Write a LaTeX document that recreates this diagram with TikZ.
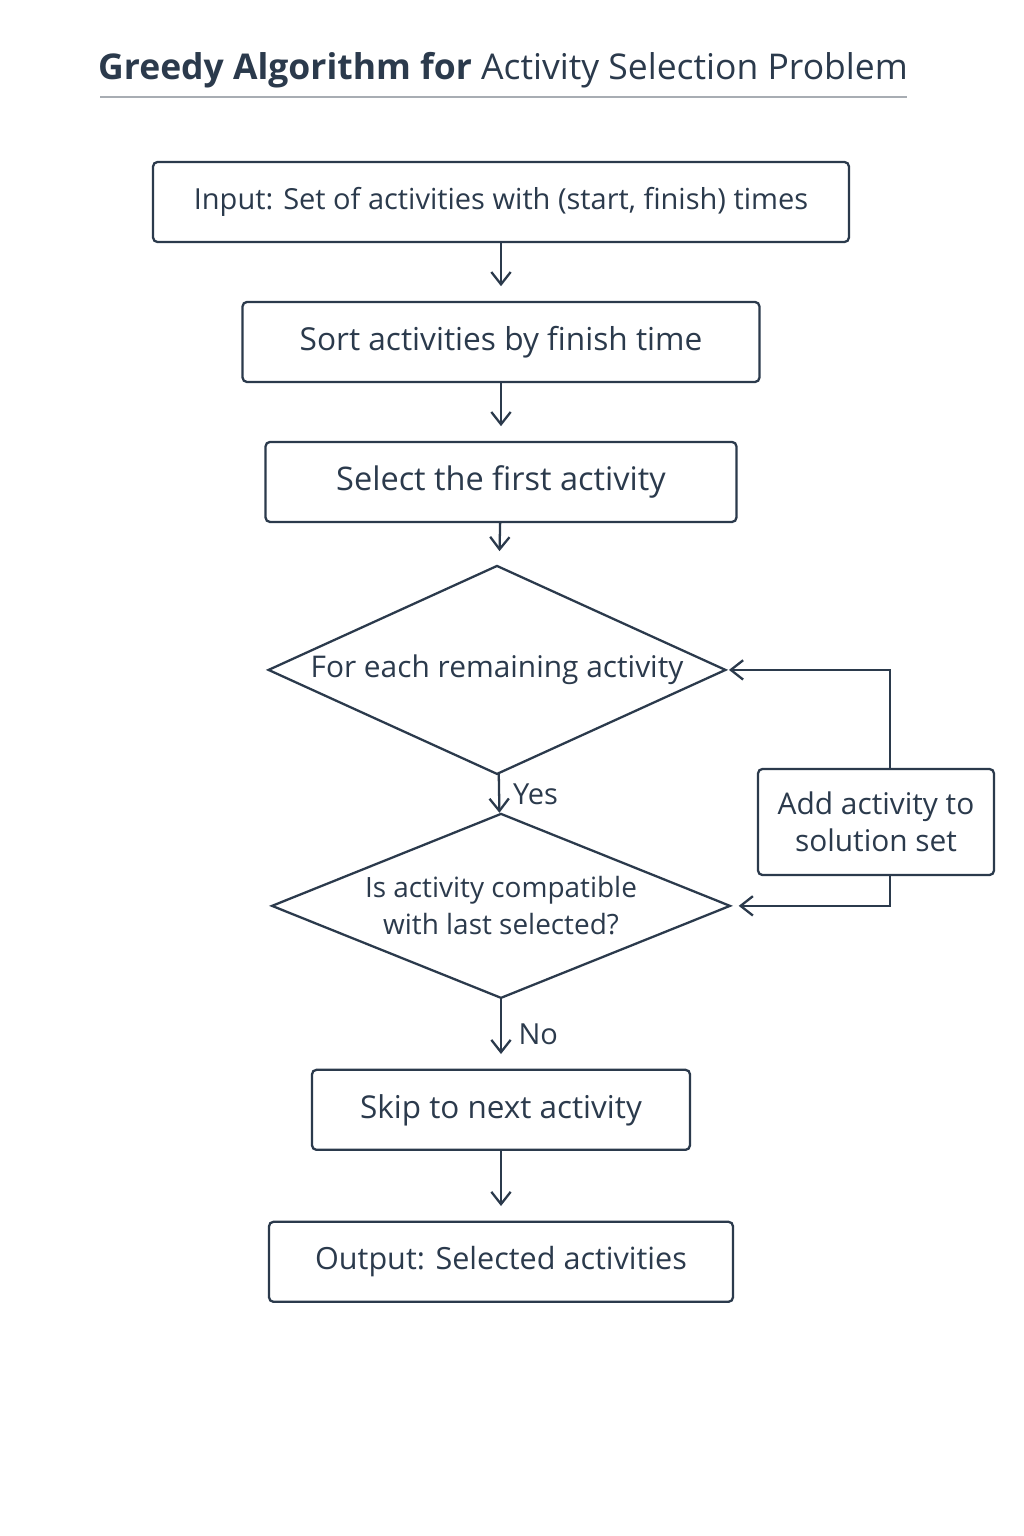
\documentclass[tikz,border=0pt]{standalone}
\usepackage{fontspec}
\setmainfont{Open Sans}
\usepackage{xcolor}
\usetikzlibrary{arrows.meta,shapes.geometric,positioning}
\definecolor{ink}{HTML}{2B3A4C}
\definecolor{rulegray}{HTML}{A8ADB3}

\begin{document}
\begin{tikzpicture}[x=0.02cm, y=-0.02cm, node distance=1.2cm, >={Straight Barb[length=7pt,width=11pt,line width=1.3pt]}]
  \tikzstyle{block}=[rectangle, draw=ink, line width=1.3pt, rounded corners=2.5pt, align=center, text=ink, inner sep=0pt, outer sep=0pt, minimum height=1.6cm]
  \tikzstyle{decision}=[diamond, draw=ink, line width=1.3pt, align=center, text=ink, inner sep=0pt, outer sep=0pt]
  \tikzstyle{flow}=[->, draw=ink, line width=1.3pt, shorten >=9pt]
  \tikzstyle{tag}=[text=ink, font=\fontsize{16.5}{18}\selectfont, anchor=west]
  \useasboundingbox (0,0) rectangle (1024,1536);
  \fill[white] (0,0) rectangle (1024,1536);
  % title
  \node[text=ink, font=\fontsize{20.2}{24}\selectfont] (title) at (503,70) {\textbf{Greedy Algorithm for} Activity Selection Problem};
  \draw[rulegray, line width=0.8pt] (100,97) -- (907,97);
  % main column
  \node[block, minimum width=13.92cm, font=\fontsize{16.5}{18}\selectfont] (input) at (501,202) {Input: Set of activities with (start, finish) times};
  \node[block, below=of input, minimum width=10.34cm, font=\fontsize{18}{20}\selectfont] (sort) {Sort activities by finish time};
  \node[block, below=of sort, minimum width=9.42cm, font=\fontsize{18.5}{20}\selectfont] (first) {Select the first activity};
  \node[decision, aspect=2.2, below=0.88cm of first, xshift=-0.08cm, minimum width=9.14cm, minimum height=4.16cm, font=\fontsize{17}{20}\selectfont] (each) {For each remaining activity};
  \node[decision, aspect=2.5, below=0.8cm of each, xshift=0.08cm, minimum width=9.16cm, minimum height=3.68cm, font=\fontsize{15.9}{21}\selectfont] (compat) {Is activity compatible\\with last selected?};
  \node[block, below=1.44cm of compat, minimum width=7.56cm, font=\fontsize{17.9}{20}\selectfont] (skip) {Skip to next activity};
  \node[block, below=1.44cm of skip, minimum width=9.28cm, font=\fontsize{17.4}{20}\selectfont] (output) {Output: Selected activities};
  % side box
  \node[block, minimum width=4.72cm, minimum height=2.12cm, font=\fontsize{17}{21}\selectfont] (add) at (876,822) {Add activity to\\solution set};
  \coordinate (addtop) at (890,769);
  \coordinate (addbot) at (890,875);
  % arrows
  \draw[flow] (input) -- (sort);
  \draw[flow] (sort) -- (first);
  \draw[flow] (first) -- (each);
  \draw[flow, shorten >=1pt] (each) -- node[tag, right, xshift=4pt] {Yes} (compat);
  \draw[flow] (compat) -- node[tag, right, xshift=6pt] {No} (skip);
  \draw[flow] (skip) -- (output);
  \draw[flow, shorten >=2pt] (addtop) |- (each.east);
  \draw[flow, shorten >=5pt] (addbot) |- (compat.east);
\end{tikzpicture}
\end{document}
